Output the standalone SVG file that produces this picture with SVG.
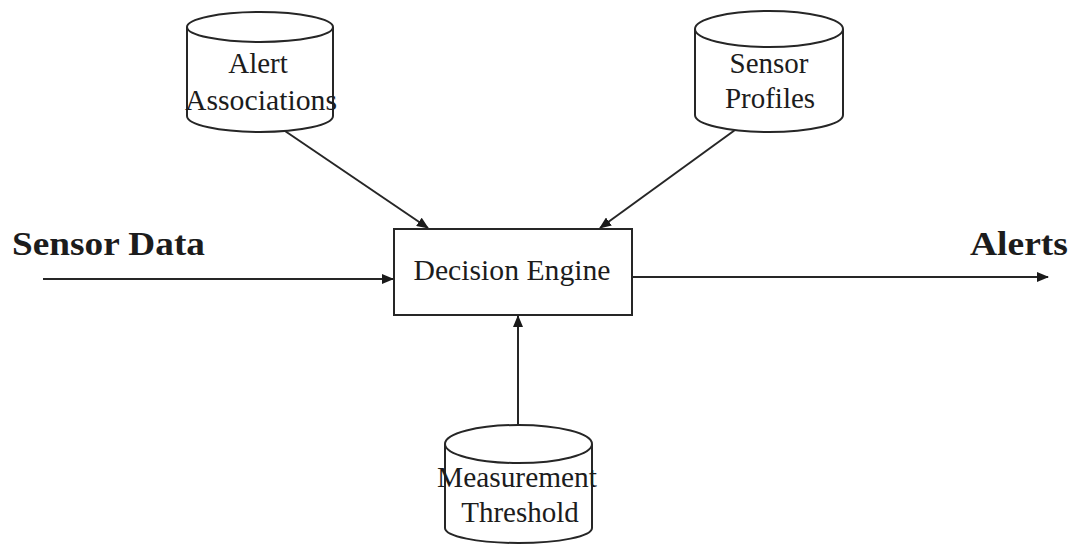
<svg xmlns="http://www.w3.org/2000/svg" width="1076" height="546" viewBox="0 0 1076 546">
  <defs>
    <marker id="arrow" viewBox="0 0 12 10" refX="11" refY="5" markerWidth="12" markerHeight="10" markerUnits="userSpaceOnUse" orient="auto">
      <path d="M0,0 L12,5 L0,10 Z" fill="#1a1a1a"/>
    </marker>
  </defs>
  <style>
    .shape { fill: #ffffff; stroke: #262626; stroke-width: 2; }
    .edge { fill: none; stroke: #262626; stroke-width: 2; marker-end: url(#arrow); }
    .label { font-size: 29px; text-anchor: middle; fill: #1c1c1c; }
    .io { font-size: 34px; font-weight: bold; fill: #1c1c1c; }
  </style>
  <rect width="1076" height="546" fill="#ffffff"/>

  <!-- connectors -->
  <g id="connectors">
    <line class="edge" x1="43" y1="279" x2="393" y2="279"/>
    <line class="edge" x1="633" y1="277" x2="1048" y2="277"/>
    <line class="edge" x1="285" y1="131" x2="428" y2="228"/>
    <line class="edge" x1="735" y1="130" x2="600" y2="228"/>
    <line class="edge" x1="518" y1="425" x2="518" y2="316"/>
  </g>

  <!-- all labels share one serif face -->
  <g font-family="Liberation Serif, Times New Roman, serif">
    <!-- data stores -->
    <g id="alert-associations">
      <path class="shape" d="M187,27 A73,15 0 0 1 333,27 V116 A73,16 0 0 1 187,116 Z"/>
      <path class="shape" fill="none" d="M187,27 A73,15 0 0 0 333,27"/>
      <text class="label" x="258" y="73">Alert</text>
      <text class="label" x="261" y="110" textLength="152" lengthAdjust="spacingAndGlyphs">Associations</text>
    </g>

    <g id="sensor-profiles">
      <path class="shape" d="M695,29 A74,18 0 0 1 843,29 V115 A74,17 0 0 1 695,115 Z"/>
      <path class="shape" fill="none" d="M695,29 A74,18 0 0 0 843,29"/>
      <text class="label" x="769" y="73">Sensor</text>
      <text class="label" x="770" y="108">Profiles</text>
    </g>

    <g id="measurement-threshold">
      <path class="shape" d="M445,444 A73.5,19 0 0 1 592,444 V528 A73.5,15 0 0 1 445,528 Z"/>
      <path class="shape" fill="none" d="M445,444 A73.5,19 0 0 0 592,444"/>
      <text class="label" x="517" y="487" textLength="160" lengthAdjust="spacingAndGlyphs">Measurement</text>
      <text class="label" x="520" y="522">Threshold</text>
    </g>

    <!-- processing step -->
    <g id="decision-engine">
      <rect class="shape" x="394" y="229" width="238" height="86"/>
      <text class="label" x="512" y="280" textLength="197" lengthAdjust="spacingAndGlyphs">Decision Engine</text>
    </g>

    <!-- input / output labels -->
    <g id="sensor-data">
      <text class="io" x="12" y="255" textLength="193" lengthAdjust="spacingAndGlyphs">Sensor Data</text>
    </g>
    <g id="alerts">
      <text class="io" x="970" y="255" textLength="98" lengthAdjust="spacingAndGlyphs">Alerts</text>
    </g>
  </g>
</svg>
